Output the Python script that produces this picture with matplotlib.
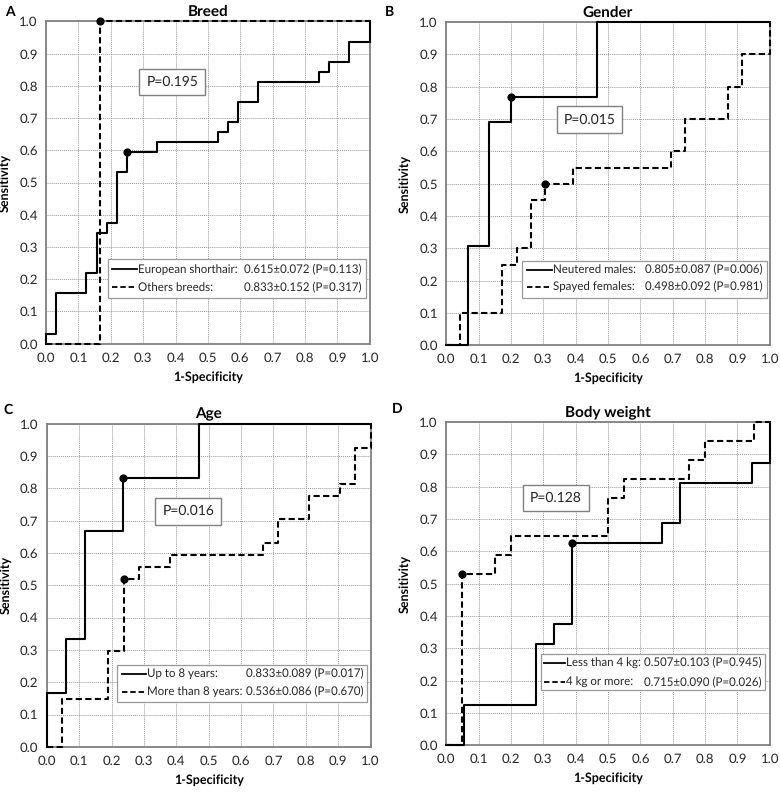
import matplotlib
matplotlib.use("Agg")
import matplotlib.pyplot as plt
from matplotlib.patches import Rectangle

plt.rcParams['font.family'] = ['Lato', 'DejaVu Sans']
plt.rcParams['text.hinting'] = 'no_hinting'

# ROC curves: (1-specificity, sensitivity) corner points, drawn as post steps
breed_es_x = [0, 0, 0.03125, 0.125, 0.15625, 0.1875, 0.21875, 0.25, 0.34375, 0.53125, 0.5625,
              0.59375, 0.65625, 0.84375, 0.875, 0.9375, 1.0, 1.0]
breed_es_y = [0, 0.03125, 0.15625, 0.21875, 0.34375, 0.375, 0.53125, 0.59375, 0.625, 0.65625,
              0.6875, 0.75, 0.8125, 0.84375, 0.875, 0.9375, 0.9375, 1.0]
breed_ot_x = [0, 0.1667, 1.0]
breed_ot_y = [0, 1.0, 1.0]

gender_m_x = [0, 0.0667, 0.1333, 0.2, 0.4667, 1.0]
gender_m_y = [0, 0.3077, 0.6923, 0.7692, 1.0, 1.0]
gender_f_x = [0, 0.0435, 0.1739, 0.2174, 0.2609, 0.3043, 0.3913, 0.6957, 0.7391, 0.8696, 0.9130, 1.0, 1.0]
gender_f_y = [0, 0.10, 0.25, 0.30, 0.45, 0.50, 0.55, 0.60, 0.70, 0.80, 0.90, 0.90, 1.0]

age_y8_x = [0, 0, 0.0588, 0.1176, 0.2353, 0.4706, 1.0]
age_y8_y = [0, 0.1667, 0.3333, 0.6667, 0.8333, 1.0, 1.0]
age_o8_x = [0, 0.0476, 0.1905, 0.2381, 0.2857, 0.3810, 0.6667, 0.7143, 0.8095, 0.9048, 0.9524, 1.0, 1.0]
age_o8_y = [0, 0.1481, 0.2963, 0.5185, 0.5556, 0.5926, 0.6296, 0.7037, 0.7778, 0.8148, 0.9259, 0.9259, 1.0]

bw_lt_x = [0, 0.0556, 0.2778, 0.3333, 0.3889, 0.6667, 0.7222, 0.9444, 1.0, 1.0]
bw_lt_y = [0, 0.125, 0.3125, 0.375, 0.625, 0.6875, 0.8125, 0.875, 0.875, 1.0]
bw_ge_x = [0, 0.05, 0.15, 0.20, 0.50, 0.55, 0.75, 0.80, 0.95, 1.0]
bw_ge_y = [0, 0.5294, 0.5882, 0.6471, 0.7647, 0.8235, 0.8824, 0.9412, 1.0, 1.0]

# optimal cut-off points
dots = {
    'A': ([0.25, 0.1667], [0.59375, 1.0]),
    'B': ([0.2, 0.3043], [0.7692, 0.50]),
    'C': ([0.2353, 0.2381], [0.8333, 0.5185]),
    'D': ([0.3889, 0.05], [0.625, 0.5294]),
}

panels = [
    dict(key='A', title='Breed', pval='P=0.195', pos=(0.39, 0.812),
         solid=(breed_es_x, breed_es_y), dashed=(breed_ot_x, breed_ot_y),
         names=['European shorthair:', 'Others breeds:'],
         vals=['0.615\u00b10.072 (P=0.113)', '0.833\u00b10.152 (P=0.317)'],
         box=(0.191, 0.143, 0.797, 0.121), rows=(0.231, 0.175), hx=(0.205, 0.282)),
    dict(key='B', title='Gender', pval='P=0.015', pos=(0.443, 0.698),
         solid=(gender_m_x, gender_m_y), dashed=(gender_f_x, gender_f_y),
         names=['Neutered males:', 'Spayed females:'],
         vals=['0.805\u00b10.087 (P=0.006)', '0.498\u00b10.092 (P=0.981)'],
         box=(0.235, 0.145, 0.756, 0.115), rows=(0.234, 0.181), hx=(0.25, 0.327)),
    dict(key='C', title='Age', pval='P=0.016', pos=(0.437, 0.729),
         solid=(age_y8_x, age_y8_y), dashed=(age_o8_x, age_o8_y),
         names=['Up to 8 years:', 'More than 8 years:'],
         vals=['0.833\u00b10.089 (P=0.017)', '0.536\u00b10.086 (P=0.670)'],
         box=(0.216, 0.139, 0.774, 0.115), rows=(0.226, 0.170), hx=(0.231, 0.306)),
    dict(key='D', title='Body weight', pval='P=0.128', pos=(0.339, 0.765),
         solid=(bw_lt_x, bw_lt_y), dashed=(bw_ge_x, bw_ge_y),
         names=['Less than 4 kg:', '4 kg or more:'],
         vals=['0.507\u00b10.103 (P=0.945)', '0.715\u00b10.090 (P=0.026)'],
         box=(0.293, 0.170, 0.692, 0.112), rows=(0.254, 0.195), hx=(0.302, 0.367)),
]

axes_pos = {
    'A': [0.059, 0.566, 0.415, 0.407],
    'B': [0.572, 0.564, 0.415, 0.408],
    'C': [0.060, 0.057, 0.415, 0.408],
    'D': [0.572, 0.059, 0.415, 0.408],
}
letter_pos = {'A': (0.006, 0.985), 'B': (0.494, 0.985), 'C': (0.004, 0.483), 'D': (0.502, 0.483)}

fig = plt.figure(figsize=(7.8, 7.92), dpi=100)
ticks = [i / 10 for i in range(11)]
dash = (0, (3, 1.6))
txt = '#262626'

for p in panels:
    ax = fig.add_axes(axes_pos[p['key']])
    ax.set_xlim(0, 1)
    ax.set_ylim(0, 1)
    ax.set_xticks(ticks)
    ax.set_yticks(ticks)
    ax.set_xticklabels(['%.1f' % t for t in ticks])
    ax.set_yticklabels(['%.1f' % t for t in ticks])
    ax.tick_params(length=0, labelsize=9.5, colors=txt, pad=6)
    ax.grid(True, color='#999999', linestyle=(0, (1, 1)), linewidth=0.7)
    ax.set_axisbelow(True)
    for s in ax.spines.values():
        s.set_color('#808080')
        s.set_linewidth(1.3)

    sx, sy = p['solid']
    dx, dy = p['dashed']
    ax.plot(sx, sy, drawstyle='steps-post', color='black', lw=1.5, clip_on=False, zorder=3)
    ax.plot(dx, dy, drawstyle='steps-post', color='black', lw=1.5, linestyle=dash,
            clip_on=False, zorder=3)
    px, py = dots[p['key']]
    ax.scatter(px, py, s=24, color='black', zorder=4, clip_on=False)

    ax.set_title(p['title'], fontsize=11, fontweight='bold', pad=4)
    ax.set_xlabel('1-Specificity', fontsize=9, fontweight='bold', labelpad=5)
    ax.set_ylabel('Sensitivity', fontsize=9, fontweight='bold', labelpad=6)

    ax.text(p['pos'][0], p['pos'][1], p['pval'], fontsize=10, ha='center', va='center',
            color=txt, zorder=5,
            bbox=dict(boxstyle='square,pad=0.5', fc='white', ec='#808080', lw=1))

    # legend box
    bx, by, bw, bh = p['box']
    ax.add_patch(Rectangle((bx, by), bw, bh, transform=ax.transAxes, fc='white',
                           ec='#999999', lw=0.9, zorder=5))
    styles = ['-', dash]
    for i in range(2):
        yy = p['rows'][i]
        ax.plot(list(p['hx']), [yy, yy], transform=ax.transAxes, color='black', lw=1.3,
                linestyle=styles[i], zorder=6)
        ax.text(p['hx'][1] + 0.003, yy, p['names'][i], transform=ax.transAxes, fontsize=8.3,
                ha='left', va='center', color=txt, zorder=6)
        ax.text(bx + bw - 0.012, yy, p['vals'][i], transform=ax.transAxes, fontsize=8.3,
                ha='right', va='center', color=txt, zorder=6)

    lx, ly = letter_pos[p['key']]
    fig.text(lx, ly, p['key'], fontsize=10, fontweight='bold', va='center', ha='left')

fig.savefig('out.png', dpi=100)
